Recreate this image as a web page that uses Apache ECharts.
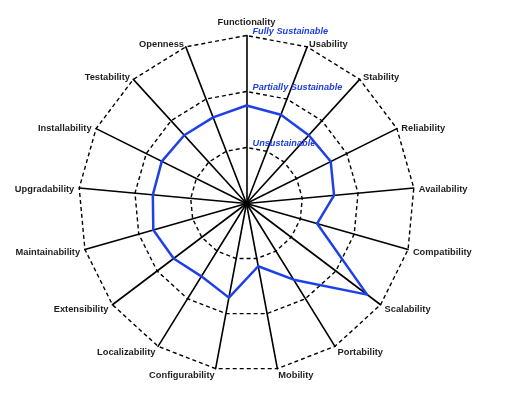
<!DOCTYPE html>
<html>
<head>
<meta charset="utf-8">
<script src="https://cdn.jsdelivr.net/npm/echarts@6/dist/echarts.min.js"></script>
<style>
html,body{margin:0;padding:0;background:#fff;}
#chart{width:508px;height:410px;}
</style>
</head>
<body>
<div id="chart"></div>
<script>
// Categories listed clockwise starting from the top
var categories = ['Functionality','Usability','Stability','Reliability','Availability','Compatibility','Scalability','Portability','Mobility','Configurability','Localizability','Extensibility','Maintainability','Upgradability','Installability','Testability','Openness'];
var values = [1.75,1.70,1.65,1.68,1.57,1.31,2.70,1.60,1.14,1.71,1.53,1.63,1.73,1.68,1.69,1.65,1.65];
var levelLabels = ['', 'Unsustainable', 'Partially Sustainable', 'Fully Sustainable'];
var maxValue = 3;

// ECharts places indicators counter-clockwise; reorder so they read clockwise
var order = [0];
for (var i = categories.length - 1; i >= 1; i--) order.push(i);

var indicators = order.map(function (idx, k) {
  var ind = { name: categories[idx], min: 0, max: maxValue };
  if (k === 0) {
    ind.axisLabel = {
      show: true,
      showMinLabel: false,
      color: '#1f3fe0',
      fontFamily: 'Liberation Sans, Arial, sans-serif',
      fontSize: 9.2,
      fontWeight: 'bold',
      fontStyle: 'italic',
      margin: -6,
      align: 'left',
      verticalAlign: 'bottom',
      formatter: function (v) { return levelLabels[Math.round(v)] || ''; }
    };
  }
  return ind;
});
var seriesValues = order.map(function (idx) { return values[idx]; });

var nameStyle = {
  color: '#1e1e1e',
  fontFamily: 'Liberation Sans, Arial, sans-serif',
  fontSize: 9.3,
  fontWeight: 'bold'
};

var chart = echarts.init(document.getElementById('chart'), null, { renderer: 'canvas' });
chart.setOption({
  backgroundColor: '#ffffff',
  animation: false,
  radar: {
    center: [246.5, 203.5],
    radius: 168,
    startAngle: 90,
    shape: 'polygon',
    splitNumber: 3,
    nameGap: 5,
    axisName: {
      color: '#1e1e1e',
      fontFamily: 'Liberation Sans, Arial, sans-serif',
      fontSize: 9.3,
      fontWeight: 'bold',
      formatter: function (name) {
        return (name === categories[0] ? '{t|' : '{a|') + name + '}';
      },
      rich: {
        a: Object.assign({ padding: [4, 0, 0, 0] }, nameStyle),
        t: Object.assign({ padding: [0, 0, -5, 0] }, nameStyle)
      }
    },
    indicator: indicators,
    axisLine: { lineStyle: { color: '#000000', width: 1.6 } },
    axisTick: { show: false },
    axisLabel: { show: false },
    splitLine: { lineStyle: { color: '#000000', width: 1.4, type: [4, 3] } },
    splitArea: { show: false }
  },
  series: [{
    type: 'radar',
    symbol: 'none',
    lineStyle: { color: '#1f3fe8', width: 2.5 },
    data: [{ value: seriesValues }]
  }]
});
</script>
</body>
</html>
